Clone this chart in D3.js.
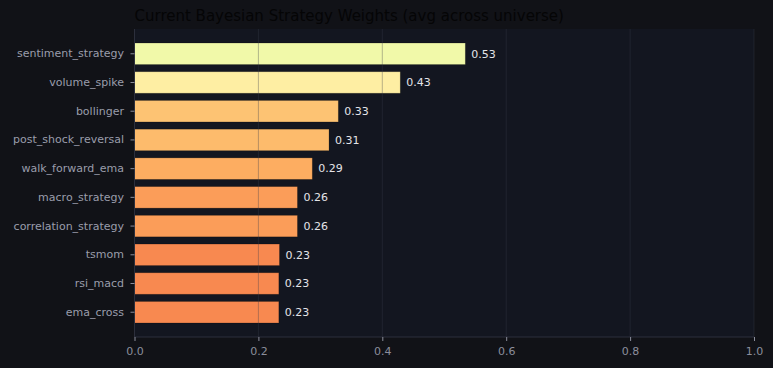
<!DOCTYPE html>
<html>
  <head>
    <title>Strategy weights</title>
    <script src="https://d3js.org/d3.v7.min.js"></script>
    <style>
      body { margin: 0; background: #111217; }
      text { font-family: "DejaVu Sans", sans-serif; }
    </style>
  </head>
  <body>
    <script>
      // data
      let strategies = ["sentiment_strategy", "volume_spike", "bollinger", "post_shock_reversal",
                        "walk_forward_ema", "macro_strategy", "correlation_strategy", "tsmom",
                        "rsi_macd", "ema_cross"];
      let weights = [0.534, 0.429, 0.329, 0.314, 0.287, 0.263, 0.263, 0.234, 0.233, 0.233];
      let xTicks = [0, 0.2, 0.4, 0.6, 0.8, 1.0];
      let title = "Current Bayesian Strategy Weights (avg across universe)";

      let width = 773, height = 368;
      let padL = 134.5, padR = 754, padT = 29, padB = 337;

      let svg = d3.select("body").append("svg")
                  .attr("width", width).attr("height", height)
                  .style("display", "block")
                  .style("background", "#111217");

      let x = d3.scaleLinear().domain([0, 1]).range([padL, padR]);
      let y = d3.scaleBand().domain(strategies).range([padT, padB])
                .paddingInner(0.25).paddingOuter(0.4875);

      // matplotlib-like Spectral (linear between the brewer stops)
      let spec = d3.schemeSpectral[11];
      let color = d3.scaleLinear().domain(d3.range(11).map(i => i / 10)).range(spec).interpolate(d3.interpolateRgb);

      // axes background
      svg.append("rect").attr("x", padL).attr("y", padT)
         .attr("width", padR - padL).attr("height", padB - padT)
         .attr("fill", "#131620");

      // bars
      svg.append("g").selectAll("rect").data(weights).enter().append("rect")
         .attr("x", x(0))
         .attr("y", (d, i) => y(strategies[i]))
         .attr("width", d => x(d) - x(0))
         .attr("height", y.bandwidth())
         .attr("fill", d => color(d * 1.04))
         .attr("stroke", "rgba(0,0,0,0.25)")
         .attr("stroke-width", 0.8);

      // grid over bars
      svg.append("g").selectAll("line").data(xTicks).enter().append("line")
         .attr("x1", d => x(d)).attr("x2", d => x(d))
         .attr("y1", padT).attr("y2", padB)
         .attr("stroke", "#3c3f4c").attr("stroke-opacity", 0.45).attr("stroke-width", 0.8);

      // spines
      svg.append("line").attr("x1", padL).attr("x2", padL).attr("y1", padT).attr("y2", padB)
         .attr("stroke", "#2c2f3c");
      svg.append("line").attr("x1", padL).attr("x2", padR).attr("y1", padB).attr("y2", padB)
         .attr("stroke", "#2c2f3c");

      // value labels
      svg.append("g").selectAll("text").data(weights).enter().append("text")
         .attr("x", d => x(d) + 6)
         .attr("y", (d, i) => y(strategies[i]) + y.bandwidth() / 2)
         .attr("dy", "0.35em")
         .attr("fill", "#e4e4e8").style("font-size", "11px")
         .text(d => d.toFixed(2));

      // y axis
      let yAxis = svg.append("g").attr("transform", `translate(${padL},0)`)
         .call(d3.axisLeft(y).tickSize(4).tickPadding(6.5));
      yAxis.select(".domain").remove();
      yAxis.selectAll("line").attr("stroke", "#8a8d9b");
      yAxis.selectAll("text").attr("fill", "#9a9dab").style("font-size", "11px")
           .style("font-family", "DejaVu Sans");

      // x axis
      let xAxis = svg.append("g").attr("transform", `translate(0,${padB})`)
         .call(d3.axisBottom(x).tickValues(xTicks).tickFormat(d3.format(".1f")).tickSize(4).tickPadding(6));
      xAxis.select(".domain").remove();
      xAxis.selectAll("line").attr("stroke", "#8a8d9b");
      xAxis.selectAll("text").attr("fill", "#8b8e9c").style("font-size", "11px")
           .style("font-family", "DejaVu Sans");

      // title (dark text, as in the original)
      svg.append("text").attr("x", padL).attr("y", 21)
         .attr("fill", "#050506").style("font-size", "15px")
         .text(title);
    </script>
  </body>
</html>
